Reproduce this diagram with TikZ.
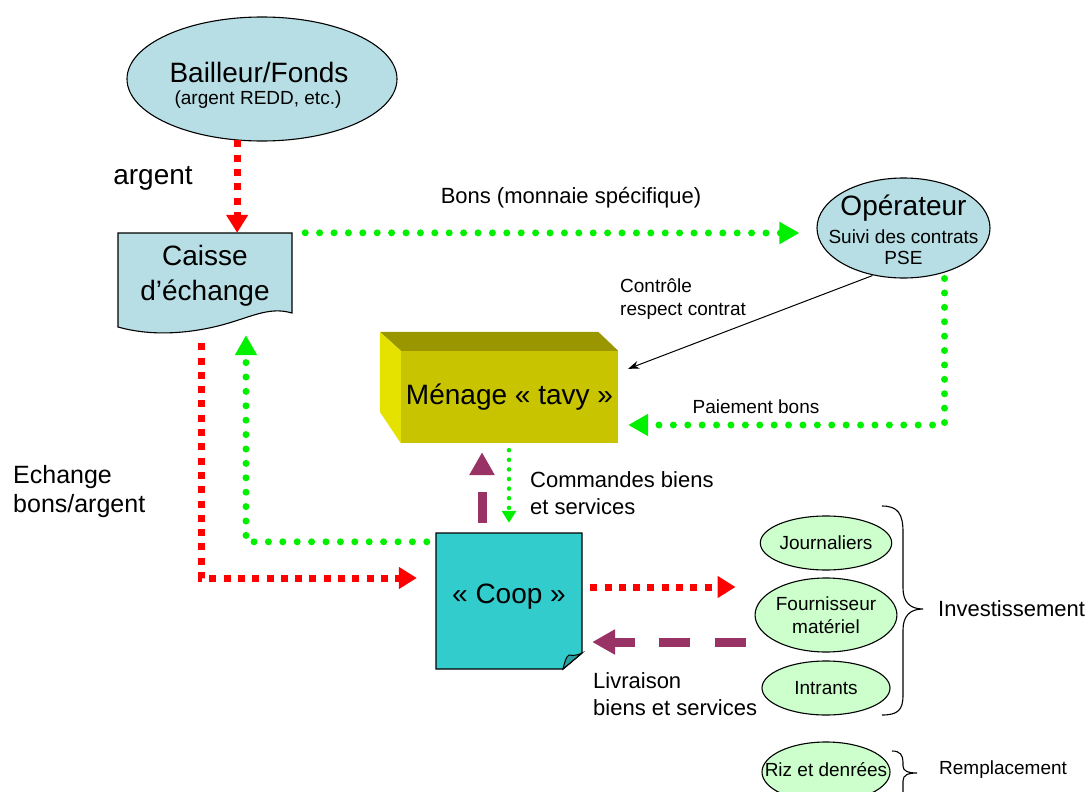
\documentclass[tikz,border=0pt]{standalone}
\usepackage{fontspec}
\setmainfont{Liberation Sans}
\usetikzlibrary{arrows.meta,shapes.geometric,calc}
\definecolor{lblue}{RGB}{183,222,228}
\definecolor{lgreen}{RGB}{204,255,204}
\definecolor{vgreen}{RGB}{0,240,0}
\definecolor{vred}{RGB}{255,0,0}
\definecolor{purp}{RGB}{153,51,102}
\definecolor{coopcol}{RGB}{51,204,204}
\definecolor{coopfold}{RGB}{40,160,160}
\definecolor{olfront}{RGB}{200,196,0}
\definecolor{oltop}{RGB}{153,150,0}
\definecolor{olside}{RGB}{229,226,0}
\newcommand{\myfXL}{\fontsize{28}{32}\selectfont}
\newcommand{\myfL}{\fontsize{25}{29}\selectfont}
\newcommand{\myfM}{\fontsize{22}{27}\selectfont}
\newcommand{\myfS}{\fontsize{19}{23}\selectfont}
\tikzset{
  greendots/.style={draw=vgreen, line width=7pt, line cap=round, dash pattern=on 0pt off 14.4pt, -{Triangle[length=20pt,width=21pt,fill=vgreen]}},
  gsmall/.style={draw=vgreen, line width=4.5pt, line cap=round, dash pattern=on 0pt off 9.6pt, -{Triangle[length=12pt,width=14pt,fill=vgreen]}},
  reddash/.style={draw=vred, line width=7pt, dash pattern=on 7pt off 7.3pt, -{Triangle[length=18pt,width=21pt,fill=vred]}},
  purpdash/.style={draw=purp, line width=9pt, -{Triangle[length=23pt,width=24pt,fill=purp]}},
  ell/.style={ellipse, draw=black, line width=1.1pt, inner sep=0pt},
  txt/.style={inner sep=0pt, text=black},
  thinarrow/.style={draw=black, line width=1pt, -{Stealth[length=11pt,width=8pt]}},
  bracepath/.style={draw=black, line width=1.1pt}
}
\begin{document}
\begin{tikzpicture}[x=1pt,y=-1pt]
\useasboundingbox (0,0) rectangle (1088,792);
\clip (0,0) rectangle (1088,792);

% Bailleur
\node[ell, fill=lblue, minimum width=270pt, minimum height=124pt] (bail) at (262,79) {};
\node[txt, font=\myfXL] (bailt1) at (259,72) {Bailleur/Fonds};
\node[txt, font=\myfS] (bailt2) at (258,100) {(argent REDD, etc.)};
\node[txt, font=\myfXL] (argentlbl) at (153,178) {argent};

% Caisse d'echange (document shape)
\node[inner sep=0pt, minimum width=174pt, minimum height=94pt] (caisse) at (205,280) {};
\filldraw[fill=lblue, draw=black, line width=1.1pt]
  (118,233) -- (292,233) -- (292,313)
  .. controls (268,306) and (250,318) .. (218,326)
  .. controls (185,334) and (150,336) .. (118,327) -- cycle;
\node[txt, font=\myfXL, align=center] (caisset) at (205,276) {Caisse\\[3pt]d’échange};

% Operateur
\node[ell, fill=lblue, minimum width=173pt, minimum height=100pt] (oper) at (903.5,228) {};
\node[txt, font=\myfXL] (opert1) at (903.5,208) {Opérateur};
\node[txt, font=\myfS] (opert2) at (903.5,237) {Suivi des contrats};
\node[txt, font=\myfS] (opert3) at (903.5,258) {PSE};

% Menage (3D box)
\node[fill=olfront, inner sep=0pt, minimum width=217pt, minimum height=92pt, font=\myfXL] (menage) at (509.5,397) {Ménage « tavy »};
\fill[oltop] (menage.north west) -- (menage.north east) -- ++(-20,-19) -- ($(menage.north west)+(-21,-19)$) -- cycle;
\fill[olside] (menage.north west) -- ++(-21,-19) -- ++(0,80) -- (menage.south west) -- cycle;

% Coop (note with folded corner)
\node[inner sep=0pt, minimum width=146pt, minimum height=136pt] (coop) at (509,601) {};
\filldraw[fill=coopcol, draw=black, line width=1.3pt]
  (436,533) -- (582,533) -- (582,653) -- (563,669) -- (436,669) -- cycle;
\filldraw[fill=coopfold, draw=black, line width=1pt]
  (563,669) .. controls (565,661) and (566,657) .. (569,655)
  .. controls (574,656) and (578,655) .. (582,653) -- cycle;
\node[txt, font=\myfXL] (coopt) at (509,597) {« Coop »};

% Right ellipses
\node[ell, fill=lgreen, minimum width=128pt, minimum height=54pt, font=\myfS] (jour) at (826,543) {Journaliers};
\node[ell, fill=lgreen, minimum width=128pt, minimum height=74pt, font=\myfS, align=center] (four) at (826,615) {Fournisseur\\matériel};
\node[ell, fill=lgreen, minimum width=128pt, minimum height=54pt, font=\myfS] (intr) at (826,688) {Intrants};
\node[ell, fill=lgreen, minimum width=128pt, minimum height=60pt] (riz) at (826,772) {};
\node[txt, font=\myfS] (rizt) at (826,770) {Riz et denrées};

% Braces
\draw[bracepath] (882,506) .. controls (898,506) and (903,514) .. (903,532)
  -- (903,588) .. controls (903,602) and (910,609) .. (923,609)
  .. controls (910,609) and (903,616) .. (903,630)
  -- (903,695) .. controls (903,710) and (898,715) .. (882,715);
\draw[bracepath] (892,751) .. controls (900,751) and (903,755) .. (903,762)
  -- (903,766) .. controls (903,771) and (908,773) .. (917,773)
  .. controls (908,773) and (903,775) .. (903,781) -- (903,800);
\node[txt, font=\myfM, anchor=west] (invlbl) at (938,609) {Investissement};
\node[txt, font=\myfS, anchor=west] (remlbl) at (939,770) {Remplacement};

% Labels
\node[txt, font=\myfL, align=left, anchor=west] (echlbl) at (13,492) {Echange\\bons/argent};
\node[txt, font=\myfM] (bonslbl) at (571,198) {Bons (monnaie spécifique)};
\node[txt, font=\myfS, align=left, anchor=west] (ctrllbl) at (620,299) {Contrôle\\respect contrat};
\node[txt, font=\myfS] (paielbl) at (756,407) {Paiement bons};
\node[txt, font=\myfM, align=left, anchor=west] (cmdlbl) at (530,493) {Commandes biens\\et services};
\node[txt, font=\myfM, align=left, anchor=west] (livlbl) at (593,694) {Livraison\\biens et services};

% Connectors
\draw[reddash] (bail.248) -- (bail.248 |- caisse.north);
\draw[greendots] ([xshift=13pt]caisse.north east) -- ([shift={(-17,5)}]oper.west);
\draw[thinarrow] ([shift={(-31,-3)}]oper.south) -- ([shift={(10,18)}]menage.north east);
\draw[greendots] ([shift={(41,0)}]oper.south) |- ([shift={(10,28)}]menage.east);
\draw[purpdash, dash pattern=on 31pt off 30pt] ([shift={(-27,-10)}]coop.north) -- ([shift={(-27.5,9)}]menage.south);
\draw[gsmall] ([shift={(-0.5,7)}]menage.south) -- ([shift={(0,-10)}]coop.north);
\draw[greendots] ([shift={(-9,9)}]coop.north west) -| ([shift={(41,8)}]caisse.south);
\draw[reddash] ([shift={(-4,16)}]caisse.south) |- ([shift={(-19,-23)}]coop.west);
\draw[reddash] ([shift={(8,-14)}]coop.east) -- ([shift={(-19,-28)}]four.west);
\draw[purpdash, dash pattern=on 31pt off 24.5pt] ([shift={(-9,27)}]four.west) -- ([shift={(10,41)}]coop.east);
\end{tikzpicture}
\end{document}
